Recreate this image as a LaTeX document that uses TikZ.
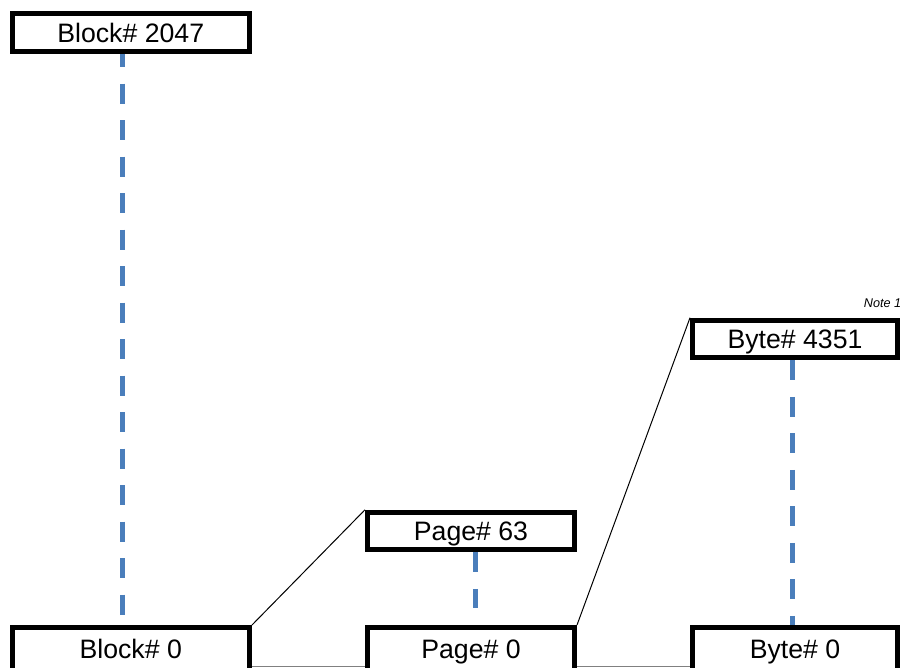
\documentclass[tikz,border=0pt]{standalone}
\usepackage{fontspec}
\setmainfont{Liberation Sans}
\usepackage{xcolor}
\usetikzlibrary{calc,positioning}
\definecolor{dashblue}{RGB}{74,126,187}

\begin{document}
\begin{tikzpicture}[x=0.75pt,y=-0.75pt,
  box/.style={draw, line width=3.75pt, inner sep=0pt, minimum height=28.125pt,
    font=\fontsize{20}{24}\selectfont, text height=14.3pt, text depth=0pt},
  blockbox/.style={box, minimum width=178.125pt},
  pagebox/.style={box, minimum width=155.25pt},
  bytebox/.style={box, minimum width=153.75pt},
  lowbox/.style={minimum height=32.25pt},
  dashline/.style={dashblue, line width=3.75pt, dash pattern=on 15pt off 12.375pt},
  zoomline/.style={black, line width=0.75pt},
  note/.style={inner sep=0pt, font=\fontsize{9.5}{11}\selectfont\itshape}]
  \clip (0,0) rectangle (902,667);
  % blocks
  \node[blockbox] (blk2047) at (130.75,32.75) {Block\# 2047};
  \node[blockbox,lowbox] (blk0) at (130.75,649) {Block\# 0};
  % pages
  \node[pagebox] (page63) at (471,531) {Page\# 63};
  \node[pagebox,lowbox] (page0) at (471,649) {Page\# 0};
  % bytes
  \node[bytebox] (byte4351) at (795,339) {Byte\# 4351};
  \node[bytebox,lowbox] (byte0) at (795,649) {Byte\# 0};
  \node[note, anchor=base east] (note1) at ($(byte4351.north east)+(1.5,-10)$) {Note 1};

  \draw[dashline, dash phase=5.25pt] ($(blk2047.south)+(-8.75,0)$) -- ($(blk0.north)+(-8.75,-10.5)$);
  \draw[dashline] ($(page63.south)+(4,0)$) -- ($(page0.north)+(4,-17)$);
  \draw[dashline] ($(byte4351.south)+(-2.5,0)$) -- ($(byte0.north)+(-2.5,0)$);

  % zoom lines
  \coordinate (base) at (0,666);
  \draw[zoomline] (blk0.north east) -- (page63.north west);
  \draw[zoomline] (page0.north east) -- (byte4351.north west);
  \draw[zoomline, gray] (blk0.east |- base) -- (page0.west |- base);
  \draw[zoomline, gray] (page0.east |- base) -- (byte0.west |- base);
\end{tikzpicture}
\end{document}
